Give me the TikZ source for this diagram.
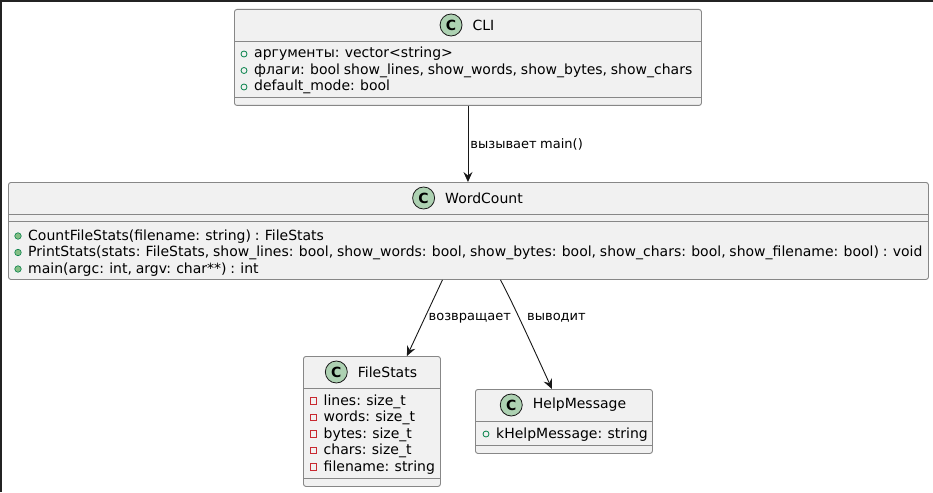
\documentclass[tikz,border=0pt]{standalone}
\usepackage{fontspec}
\setmainfont{DejaVu Sans}[WordSpace=0.85]
\usetikzlibrary{arrows.meta,positioning}
\definecolor{boxfill}{HTML}{F1F1F1}
\definecolor{boxline}{HTML}{878787}
\definecolor{iconfill}{HTML}{ADD1B2}
\definecolor{pubgreen}{HTML}{038048}
\definecolor{methfill}{HTML}{84BE84}
\definecolor{privred}{HTML}{C82930}
\definecolor{ink}{HTML}{181818}

\begin{document}
\begin{tikzpicture}[x=1pt,y=-1pt,
    classbox/.style={draw=boxline, fill=boxfill, line width=0.9pt, rounded corners=2.5pt, inner sep=0pt, anchor=north west},
    divider/.style={draw=boxline, line width=0.9pt},
    classname/.style={inner sep=0pt, font=\fontsize{14}{16}\selectfont},
    classicon/.style={circle, draw=ink, fill=iconfill, line width=0.8pt, minimum size=22pt, inner sep=0pt, font=\fontsize{14}{16}\selectfont\bfseries},
    member/.style={anchor=base west, inner sep=0pt, font=\fontsize{14}{16}\selectfont},
    pubattr/.style={circle, draw=pubgreen, line width=0.8pt, minimum size=6pt, inner sep=0pt},
    pubmeth/.style={circle, draw=pubgreen, fill=methfill, line width=0.6pt, minimum size=6.5pt, inner sep=0pt},
    privattr/.style={rectangle, draw=privred, line width=0.8pt, minimum size=6.5pt, inner sep=0pt},
    assoc/.style={draw=ink, line width=0.9pt, -{Stealth[length=10pt, width=9pt, inset=3.5pt]}},
    edgelabel/.style={inner sep=0pt, font=\fontsize{13}{15}\selectfont}]
    \useasboundingbox (0,0) rectangle (933,492);
    \fill[white] (0,0) rectangle (933,492);
    \draw[ink!95, line width=2pt] (1,492) -- (1,1) -- (933,1);

    % class boxes
    \node[classbox, minimum width=467pt, minimum height=96pt] (cli) at (234,9) {};
    \node[classbox, minimum width=920pt, minimum height=97pt] (wc) at (8,182) {};
    \node[classbox, minimum width=137pt, minimum height=130pt] (fs) at (303,356) {};
    \node[classbox, minimum width=177pt, minimum height=64pt] (help) at (475,389) {};
    \foreach \xa/\xb/\y in {234/701/41, 234/701/97, 8/928/214, 8/928/221, 303/440/388, 303/440/478, 475/652/421, 475/652/445}
        \draw[divider] (\xa,\y) -- (\xb,\y);

    % headers
    \foreach \n/\x/\y/\name in {cli/483.5/25/CLI, wc/484/198/WordCount, fs/387.5/372/FileStats, help/579.5/405/HelpMessage} {
        \node[classname] (\n-name) at (\x,\y) {\name};
        \node[classicon, left=10pt of \n-name] (\n-icon) {C};
    }

    % members
    \foreach \txt [count=\i] in {{аргументы: vector<string>}, {флаги: bool show\_lines, show\_words, show\_bytes, show\_chars}, {default\_mode: bool}} {
        \node[pubattr] (cli-v\i) at (244,37.5+16.5*\i) {};
        \node[member] (cli-m\i) at (254,41.5+16.5*\i) {\txt};
    }
    \foreach \txt [count=\i] in {{CountFileStats(filename: string) : FileStats}, {PrintStats(stats: FileStats, show\_lines: bool, show\_words: bool, show\_bytes: bool, show\_chars: bool, show\_filename: bool) : void}, {main(argc: int, argv: char**) : int}} {
        \node[pubmeth] (wc-v\i) at (18,219.5+16.5*\i) {};
        \node[member] (wc-m\i) at (28,223.5+16.5*\i) {\txt};
    }
    \foreach \txt [count=\i] in {{lines: size\_t}, {words: size\_t}, {bytes: size\_t}, {chars: size\_t}, {filename: string}} {
        \node[privattr] (fs-v\i) at (313.5,384.5+16.5*\i) {};
        \node[member] (fs-m\i) at (323.5,388.5+16.5*\i) {\txt};
    }
    \node[pubattr] (help-v1) at (486,434) {};
    \node[member] (help-m1) at (496,438) {kHelpMessage: string};

    % relations
    \draw[assoc] (cli.south) -- (cli.south |- wc.north)
        node[edgelabel, midway, right=2pt] (call-lbl) {вызывает main()};
    \draw[assoc] ([xshift=-26pt]wc.south) -- ([xshift=35pt]fs.north)
        node[edgelabel, midway, right=3.5pt] (ret-lbl) {возвращает};
    \draw[assoc] ([xshift=32pt]wc.south) .. controls (511,299) and (536,354) .. ([xshift=-12pt]help.north);
    \node[edgelabel, anchor=west] (out-lbl) at (527,318) {выводит};
\end{tikzpicture}
\end{document}
